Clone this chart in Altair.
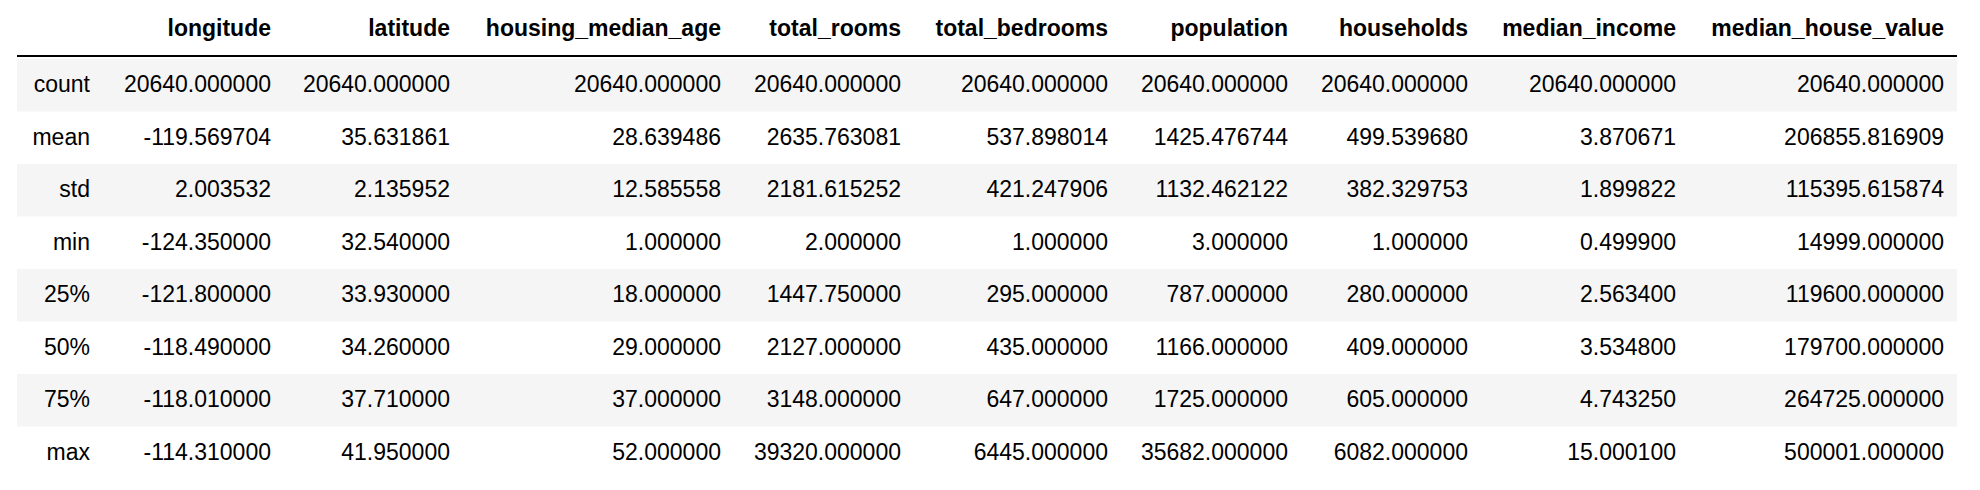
import altair as alt
import pandas as pd

STATS = ["count", "mean", "std", "min", "25%", "50%", "75%", "max"]
COLUMNS = ["longitude", "latitude", "housing_median_age", "total_rooms", "total_bedrooms",
           "population", "households", "median_income", "median_house_value"]
VALUES = {
    "longitude": [20640, -119.569704, 2.003532, -124.35, -121.8, -118.49, -118.01, -114.31],
    "latitude": [20640, 35.631861, 2.135952, 32.54, 33.93, 34.26, 37.71, 41.95],
    "housing_median_age": [20640, 28.639486, 12.585558, 1, 18, 29, 37, 52],
    "total_rooms": [20640, 2635.763081, 2181.615252, 2, 1447.75, 2127, 3148, 39320],
    "total_bedrooms": [20640, 537.898014, 421.247906, 1, 295, 435, 647, 6445],
    "population": [20640, 1425.476744, 1132.462122, 3, 787, 1166, 1725, 35682],
    "households": [20640, 499.539680, 382.329753, 1, 280, 409, 605, 6082],
    "median_income": [20640, 3.870671, 1.899822, 0.4999, 2.5634, 3.5348, 4.74325, 15.0001],
    "median_house_value": [20640, 206855.816909, 115395.615874, 14999, 119600, 179700, 264725, 500001],
}

# right edges of each column (index column first), in pixels
COL_RANGE = [82, 263, 442, 713, 893, 1100, 1280, 1460, 1668, 1936]
FONT = "Liberation Sans"
SIZE = 23

cells = pd.DataFrame(
    [{"stat": s, "ci": j + 1, "txt": f"{VALUES[c][i]:.6f}"}
     for j, c in enumerate(COLUMNS) for i, s in enumerate(STATS)]
)
index = pd.DataFrame({"stat": STATS, "ci": 0, "txt": STATS})
header = pd.DataFrame({"ci": range(1, len(COLUMNS) + 1), "txt": COLUMNS})
stripes = pd.DataFrame({"stat": STATS[0::2]})

x = alt.X("ci:Q", scale=alt.Scale(domain=list(range(len(COL_RANGE))), range=COL_RANGE), axis=None)
y = alt.Y("stat:N", scale=alt.Scale(domain=STATS, range=[51, 471], paddingInner=0, paddingOuter=0), axis=None)

bg = alt.Chart(stripes).mark_rect(color="#f5f5f5").encode(
    y=y, x=alt.value(9), x2=alt.value(1949)
)
rule = alt.Chart(pd.DataFrame({"v": [0]})).mark_rule(color="#000", strokeWidth=2).encode(
    y=alt.value(48), x=alt.value(9), x2=alt.value(1949)
)
body = alt.Chart(pd.concat([index, cells])).mark_text(
    align="right", baseline="middle", font=FONT, fontSize=SIZE, color="#000"
).encode(x=x, y=alt.Y("stat:N", scale=alt.Scale(domain=STATS, range=[51, 471]), axis=None,
                      bandPosition=0.5), text="txt:N")
head = alt.Chart(header).mark_text(
    align="right", baseline="middle", font=FONT, fontSize=SIZE, fontWeight="bold", color="#000"
).encode(x=x, y=alt.value(21), text="txt:N")

chart = (
    alt.layer(bg, rule, body, head)
    .resolve_scale(y="shared")
    .properties(width=1960, height=474, autosize=alt.AutoSizeParams(type="none"), padding=0)
    .configure_view(stroke=None)
)
chart.save("out.html", embed_options={"renderer": "svg", "actions": False})
